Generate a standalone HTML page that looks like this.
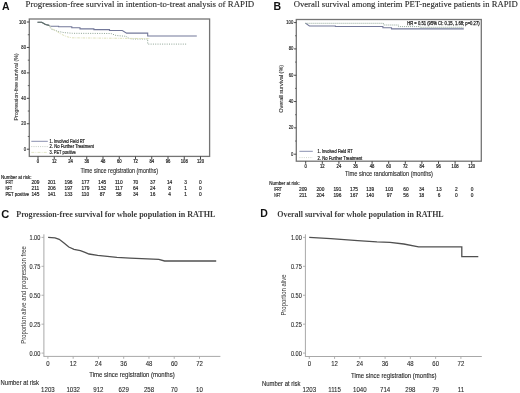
<!DOCTYPE html>
<html><head><meta charset="utf-8"><style>
html,body{margin:0;padding:0;background:#fff;}
body{width:520px;height:393px;overflow:hidden;}
svg{display:block;will-change:transform;}
#w{width:520px;height:393px;}
</style></head><body>
<div id="w"><svg width="520" height="393" viewBox="0 0 520 393">
<rect width="520" height="393" fill="#fff"/>
<text x="1.9" y="10.0" font-size="10" font-family='"Liberation Sans", sans-serif' fill="#111" textLength="7.6" lengthAdjust="spacingAndGlyphs" font-weight="bold" >A</text>
<text x="25.6" y="7.2" font-size="8.5" font-family='"Liberation Serif", serif' fill="#2a2a2a" textLength="228.6" lengthAdjust="spacingAndGlyphs" stroke="#2a2a2a" stroke-width="0.12">Progression-free survival in intention-to-treat analysis of RAPID</text>
<rect x="29.3" y="19.0" width="180.29999999999998" height="137.4" fill="none" stroke="#747474" stroke-width="1.3"/>
<line x1="26.8" y1="149.2" x2="29.3" y2="149.2" stroke="#444" stroke-width="1.0" />
<text x="26.0" y="150.79999999999998" font-size="5.0" font-family='"Liberation Sans", sans-serif' fill="#222" text-anchor="end" textLength="2.34" lengthAdjust="spacingAndGlyphs" stroke="#222" stroke-width="0.15">0</text>
<line x1="26.8" y1="123.76" x2="29.3" y2="123.76" stroke="#444" stroke-width="1.0" />
<text x="26.0" y="125.36" font-size="5.0" font-family='"Liberation Sans", sans-serif' fill="#222" text-anchor="end" textLength="4.67" lengthAdjust="spacingAndGlyphs" stroke="#222" stroke-width="0.15">20</text>
<line x1="26.8" y1="98.32" x2="29.3" y2="98.32" stroke="#444" stroke-width="1.0" />
<text x="26.0" y="99.91999999999999" font-size="5.0" font-family='"Liberation Sans", sans-serif' fill="#222" text-anchor="end" textLength="4.67" lengthAdjust="spacingAndGlyphs" stroke="#222" stroke-width="0.15">40</text>
<line x1="26.8" y1="72.88" x2="29.3" y2="72.88" stroke="#444" stroke-width="1.0" />
<text x="26.0" y="74.47999999999999" font-size="5.0" font-family='"Liberation Sans", sans-serif' fill="#222" text-anchor="end" textLength="4.67" lengthAdjust="spacingAndGlyphs" stroke="#222" stroke-width="0.15">60</text>
<line x1="26.8" y1="47.44" x2="29.3" y2="47.44" stroke="#444" stroke-width="1.0" />
<text x="26.0" y="49.04" font-size="5.0" font-family='"Liberation Sans", sans-serif' fill="#222" text-anchor="end" textLength="4.67" lengthAdjust="spacingAndGlyphs" stroke="#222" stroke-width="0.15">80</text>
<line x1="26.8" y1="22.0" x2="29.3" y2="22.0" stroke="#444" stroke-width="1.0" />
<text x="26.0" y="23.6" font-size="5.0" font-family='"Liberation Sans", sans-serif' fill="#222" text-anchor="end" textLength="7.01" lengthAdjust="spacingAndGlyphs" stroke="#222" stroke-width="0.15">100</text>
<line x1="27.8" y1="136.47999999999996" x2="29.3" y2="136.47999999999996" stroke="#555" stroke-width="0.9" />
<line x1="27.8" y1="111.04" x2="29.3" y2="111.04" stroke="#555" stroke-width="0.9" />
<line x1="27.8" y1="85.6" x2="29.3" y2="85.6" stroke="#555" stroke-width="0.9" />
<line x1="27.8" y1="60.16" x2="29.3" y2="60.16" stroke="#555" stroke-width="0.9" />
<line x1="27.8" y1="34.72" x2="29.3" y2="34.72" stroke="#555" stroke-width="0.9" />
<line x1="38.0" y1="156.4" x2="38.0" y2="159.0" stroke="#444" stroke-width="1.0" />
<text x="38.0" y="162.7" font-size="4.8" font-family='"Liberation Sans", sans-serif' fill="#222" text-anchor="middle" textLength="2.34" lengthAdjust="spacingAndGlyphs" stroke="#222" stroke-width="0.2">0</text>
<line x1="54.25" y1="156.4" x2="54.25" y2="159.0" stroke="#444" stroke-width="1.0" />
<text x="54.25" y="162.7" font-size="4.8" font-family='"Liberation Sans", sans-serif' fill="#222" text-anchor="middle" textLength="4.67" lengthAdjust="spacingAndGlyphs" stroke="#222" stroke-width="0.2">12</text>
<line x1="70.5" y1="156.4" x2="70.5" y2="159.0" stroke="#444" stroke-width="1.0" />
<text x="70.5" y="162.7" font-size="4.8" font-family='"Liberation Sans", sans-serif' fill="#222" text-anchor="middle" textLength="4.67" lengthAdjust="spacingAndGlyphs" stroke="#222" stroke-width="0.2">24</text>
<line x1="86.75" y1="156.4" x2="86.75" y2="159.0" stroke="#444" stroke-width="1.0" />
<text x="86.75" y="162.7" font-size="4.8" font-family='"Liberation Sans", sans-serif' fill="#222" text-anchor="middle" textLength="4.67" lengthAdjust="spacingAndGlyphs" stroke="#222" stroke-width="0.2">36</text>
<line x1="103.0" y1="156.4" x2="103.0" y2="159.0" stroke="#444" stroke-width="1.0" />
<text x="103.0" y="162.7" font-size="4.8" font-family='"Liberation Sans", sans-serif' fill="#222" text-anchor="middle" textLength="4.67" lengthAdjust="spacingAndGlyphs" stroke="#222" stroke-width="0.2">48</text>
<line x1="119.25" y1="156.4" x2="119.25" y2="159.0" stroke="#444" stroke-width="1.0" />
<text x="119.25" y="162.7" font-size="4.8" font-family='"Liberation Sans", sans-serif' fill="#222" text-anchor="middle" textLength="4.67" lengthAdjust="spacingAndGlyphs" stroke="#222" stroke-width="0.2">60</text>
<line x1="135.5" y1="156.4" x2="135.5" y2="159.0" stroke="#444" stroke-width="1.0" />
<text x="135.5" y="162.7" font-size="4.8" font-family='"Liberation Sans", sans-serif' fill="#222" text-anchor="middle" textLength="4.67" lengthAdjust="spacingAndGlyphs" stroke="#222" stroke-width="0.2">72</text>
<line x1="151.75" y1="156.4" x2="151.75" y2="159.0" stroke="#444" stroke-width="1.0" />
<text x="151.75" y="162.7" font-size="4.8" font-family='"Liberation Sans", sans-serif' fill="#222" text-anchor="middle" textLength="4.67" lengthAdjust="spacingAndGlyphs" stroke="#222" stroke-width="0.2">84</text>
<line x1="168.0" y1="156.4" x2="168.0" y2="159.0" stroke="#444" stroke-width="1.0" />
<text x="168.0" y="162.7" font-size="4.8" font-family='"Liberation Sans", sans-serif' fill="#222" text-anchor="middle" textLength="4.67" lengthAdjust="spacingAndGlyphs" stroke="#222" stroke-width="0.2">96</text>
<line x1="184.25" y1="156.4" x2="184.25" y2="159.0" stroke="#444" stroke-width="1.0" />
<text x="184.25" y="162.7" font-size="4.8" font-family='"Liberation Sans", sans-serif' fill="#222" text-anchor="middle" textLength="7.01" lengthAdjust="spacingAndGlyphs" stroke="#222" stroke-width="0.2">108</text>
<line x1="200.5" y1="156.4" x2="200.5" y2="159.0" stroke="#444" stroke-width="1.0" />
<text x="200.5" y="162.7" font-size="4.8" font-family='"Liberation Sans", sans-serif' fill="#222" text-anchor="middle" textLength="7.01" lengthAdjust="spacingAndGlyphs" stroke="#222" stroke-width="0.2">120</text>
<text x="80.5" y="172.8" font-size="6.8" font-family='"Liberation Sans", sans-serif' fill="#2a2a2a" textLength="77.5" lengthAdjust="spacingAndGlyphs" stroke="#2a2a2a" stroke-width="0.12">Time since registration (months)</text>
<text transform="translate(18.2,120.5) rotate(-90)" font-size="4.6" font-family='"Liberation Sans", sans-serif' fill="#333" stroke="#333" stroke-width="0.1" textLength="67" lengthAdjust="spacingAndGlyphs">Progression-free survival (%)</text>
<path d="M37.5,22.2 L41.7,22.2 L45.5,24.5 L49,25.3 L50.2,26.3 L58.6,26.3 L58.6,26.7 L71.8,26.7 L71.8,27.7 L80,27.7 L80,28.9 L93.9,28.9 L93.9,29.6 L109.5,29.6 L109.5,30.5 L122.3,30.5 L126.6,33.1 L147.7,33.1 L147.7,36.0 L196.8,36.0" fill="none" stroke="#737899" stroke-width="1.1" />
<path d="M49,25.5 L51.3,29.2 L58.6,31.5 L64,32.6 L72.5,33.3 L111,33.5 L116,35.5 L126,36.3 L129,38.4 L132,39.0 L147.7,39.0 L147.7,44.1 L186.7,44.1" fill="none" stroke="#8fa596" stroke-width="1" stroke-dasharray="1,1.3"/>
<path d="M49,25.5 L52,28.5 L56,31 L60,33.5 L64,35.5 L68,37 L72,37.8 L128,38.4 L150,38.6" fill="none" stroke="#e0e3bd" stroke-width="1" stroke-dasharray="2.5,1,0.8,1"/>
<path d="M37.5,22.2 L41.7,22.2 L45.5,24.5 L49,25.4" fill="none" stroke="#5f7066" stroke-width="1.1" />
<line x1="31.3" y1="141.3" x2="47.8" y2="141.3" stroke="#8a90b0" stroke-width="1.0" />
<line x1="31.3" y1="146.6" x2="47.8" y2="146.6" stroke="#c4cbc4" stroke-width="1" stroke-dasharray="1,1.2"/>
<line x1="31.3" y1="152.4" x2="47.8" y2="152.4" stroke="#e2e5c8" stroke-width="1" stroke-dasharray="3,1.2,0.8,1.2"/>
<text x="49.5" y="143.1" font-size="4.8" font-family='"Liberation Sans", sans-serif' fill="#222" textLength="35.5" lengthAdjust="spacingAndGlyphs" stroke="#222" stroke-width="0.2">1. Involved Field RT</text>
<text x="49.5" y="148.3" font-size="4.8" font-family='"Liberation Sans", sans-serif' fill="#222" textLength="44.5" lengthAdjust="spacingAndGlyphs" stroke="#222" stroke-width="0.2">2. No Further Treatment</text>
<text x="49.5" y="154.2" font-size="4.8" font-family='"Liberation Sans", sans-serif' fill="#222" textLength="26.3" lengthAdjust="spacingAndGlyphs" stroke="#222" stroke-width="0.2">3. PET positive</text>
<text x="1" y="178.8" font-size="5.0" font-family='"Liberation Sans", sans-serif' fill="#222" textLength="30.5" lengthAdjust="spacingAndGlyphs" stroke="#222" stroke-width="0.16">Number at risk:</text>
<text x="5.4" y="184.0" font-size="4.8" font-family='"Liberation Sans", sans-serif' fill="#222" textLength="7.6" lengthAdjust="spacingAndGlyphs" stroke="#222" stroke-width="0.16">IFRT</text>
<text x="35.4" y="184.0" font-size="4.8" font-family='"Liberation Sans", sans-serif' fill="#222" text-anchor="middle" stroke="#222" stroke-width="0.16">209</text>
<text x="51.7" y="184.0" font-size="4.8" font-family='"Liberation Sans", sans-serif' fill="#222" text-anchor="middle" stroke="#222" stroke-width="0.16">201</text>
<text x="68.5" y="184.0" font-size="4.8" font-family='"Liberation Sans", sans-serif' fill="#222" text-anchor="middle" stroke="#222" stroke-width="0.16">196</text>
<text x="85.4" y="184.0" font-size="4.8" font-family='"Liberation Sans", sans-serif' fill="#222" text-anchor="middle" stroke="#222" stroke-width="0.16">177</text>
<text x="102.3" y="184.0" font-size="4.8" font-family='"Liberation Sans", sans-serif' fill="#222" text-anchor="middle" stroke="#222" stroke-width="0.16">145</text>
<text x="118.8" y="184.0" font-size="4.8" font-family='"Liberation Sans", sans-serif' fill="#222" text-anchor="middle" stroke="#222" stroke-width="0.16">110</text>
<text x="135.6" y="184.0" font-size="4.8" font-family='"Liberation Sans", sans-serif' fill="#222" text-anchor="middle" stroke="#222" stroke-width="0.16">70</text>
<text x="152.7" y="184.0" font-size="4.8" font-family='"Liberation Sans", sans-serif' fill="#222" text-anchor="middle" stroke="#222" stroke-width="0.16">37</text>
<text x="169.6" y="184.0" font-size="4.8" font-family='"Liberation Sans", sans-serif' fill="#222" text-anchor="middle" stroke="#222" stroke-width="0.16">14</text>
<text x="185.6" y="184.0" font-size="4.8" font-family='"Liberation Sans", sans-serif' fill="#222" text-anchor="middle" stroke="#222" stroke-width="0.16">3</text>
<text x="200.4" y="184.0" font-size="4.8" font-family='"Liberation Sans", sans-serif' fill="#222" text-anchor="middle" stroke="#222" stroke-width="0.16">0</text>
<text x="5.4" y="189.89999999999998" font-size="4.8" font-family='"Liberation Sans", sans-serif' fill="#222" textLength="6.6" lengthAdjust="spacingAndGlyphs" stroke="#222" stroke-width="0.16">NFT</text>
<text x="35.4" y="189.89999999999998" font-size="4.8" font-family='"Liberation Sans", sans-serif' fill="#222" text-anchor="middle" stroke="#222" stroke-width="0.16">211</text>
<text x="51.7" y="189.89999999999998" font-size="4.8" font-family='"Liberation Sans", sans-serif' fill="#222" text-anchor="middle" stroke="#222" stroke-width="0.16">206</text>
<text x="68.5" y="189.89999999999998" font-size="4.8" font-family='"Liberation Sans", sans-serif' fill="#222" text-anchor="middle" stroke="#222" stroke-width="0.16">197</text>
<text x="85.4" y="189.89999999999998" font-size="4.8" font-family='"Liberation Sans", sans-serif' fill="#222" text-anchor="middle" stroke="#222" stroke-width="0.16">179</text>
<text x="102.3" y="189.89999999999998" font-size="4.8" font-family='"Liberation Sans", sans-serif' fill="#222" text-anchor="middle" stroke="#222" stroke-width="0.16">152</text>
<text x="118.8" y="189.89999999999998" font-size="4.8" font-family='"Liberation Sans", sans-serif' fill="#222" text-anchor="middle" stroke="#222" stroke-width="0.16">117</text>
<text x="135.6" y="189.89999999999998" font-size="4.8" font-family='"Liberation Sans", sans-serif' fill="#222" text-anchor="middle" stroke="#222" stroke-width="0.16">64</text>
<text x="152.7" y="189.89999999999998" font-size="4.8" font-family='"Liberation Sans", sans-serif' fill="#222" text-anchor="middle" stroke="#222" stroke-width="0.16">24</text>
<text x="169.6" y="189.89999999999998" font-size="4.8" font-family='"Liberation Sans", sans-serif' fill="#222" text-anchor="middle" stroke="#222" stroke-width="0.16">8</text>
<text x="185.6" y="189.89999999999998" font-size="4.8" font-family='"Liberation Sans", sans-serif' fill="#222" text-anchor="middle" stroke="#222" stroke-width="0.16">1</text>
<text x="200.4" y="189.89999999999998" font-size="4.8" font-family='"Liberation Sans", sans-serif' fill="#222" text-anchor="middle" stroke="#222" stroke-width="0.16">0</text>
<text x="5.4" y="195.89999999999998" font-size="4.8" font-family='"Liberation Sans", sans-serif' fill="#222" textLength="23.8" lengthAdjust="spacingAndGlyphs" stroke="#222" stroke-width="0.16">PET positive</text>
<text x="35.4" y="195.89999999999998" font-size="4.8" font-family='"Liberation Sans", sans-serif' fill="#222" text-anchor="middle" stroke="#222" stroke-width="0.16">145</text>
<text x="51.7" y="195.89999999999998" font-size="4.8" font-family='"Liberation Sans", sans-serif' fill="#222" text-anchor="middle" stroke="#222" stroke-width="0.16">141</text>
<text x="68.5" y="195.89999999999998" font-size="4.8" font-family='"Liberation Sans", sans-serif' fill="#222" text-anchor="middle" stroke="#222" stroke-width="0.16">133</text>
<text x="85.4" y="195.89999999999998" font-size="4.8" font-family='"Liberation Sans", sans-serif' fill="#222" text-anchor="middle" stroke="#222" stroke-width="0.16">110</text>
<text x="102.3" y="195.89999999999998" font-size="4.8" font-family='"Liberation Sans", sans-serif' fill="#222" text-anchor="middle" stroke="#222" stroke-width="0.16">87</text>
<text x="118.8" y="195.89999999999998" font-size="4.8" font-family='"Liberation Sans", sans-serif' fill="#222" text-anchor="middle" stroke="#222" stroke-width="0.16">58</text>
<text x="135.6" y="195.89999999999998" font-size="4.8" font-family='"Liberation Sans", sans-serif' fill="#222" text-anchor="middle" stroke="#222" stroke-width="0.16">34</text>
<text x="152.7" y="195.89999999999998" font-size="4.8" font-family='"Liberation Sans", sans-serif' fill="#222" text-anchor="middle" stroke="#222" stroke-width="0.16">16</text>
<text x="169.6" y="195.89999999999998" font-size="4.8" font-family='"Liberation Sans", sans-serif' fill="#222" text-anchor="middle" stroke="#222" stroke-width="0.16">4</text>
<text x="185.6" y="195.89999999999998" font-size="4.8" font-family='"Liberation Sans", sans-serif' fill="#222" text-anchor="middle" stroke="#222" stroke-width="0.16">1</text>
<text x="200.4" y="195.89999999999998" font-size="4.8" font-family='"Liberation Sans", sans-serif' fill="#222" text-anchor="middle" stroke="#222" stroke-width="0.16">0</text>
<text x="273.6" y="9.7" font-size="10.4" font-family='"Liberation Sans", sans-serif' fill="#111" textLength="7.6" lengthAdjust="spacingAndGlyphs" font-weight="bold" >B</text>
<text x="293.7" y="7.2" font-size="8.5" font-family='"Liberation Serif", serif' fill="#2a2a2a" textLength="224" lengthAdjust="spacingAndGlyphs" stroke="#2a2a2a" stroke-width="0.12">Overall survival among interim PET-negative patients in RAPID</text>
<rect x="296.3" y="19.5" width="185.0" height="141.7" fill="none" stroke="#747474" stroke-width="1.3"/>
<line x1="294.1" y1="154.2" x2="296.3" y2="154.2" stroke="#444" stroke-width="1.0" />
<text x="293.3" y="155.6" font-size="5.0" font-family='"Liberation Sans", sans-serif' fill="#222" text-anchor="end" textLength="2.34" lengthAdjust="spacingAndGlyphs" stroke="#222" stroke-width="0.15">0</text>
<line x1="294.1" y1="127.88" x2="296.3" y2="127.88" stroke="#444" stroke-width="1.0" />
<text x="293.3" y="129.28" font-size="5.0" font-family='"Liberation Sans", sans-serif' fill="#222" text-anchor="end" textLength="4.67" lengthAdjust="spacingAndGlyphs" stroke="#222" stroke-width="0.15">20</text>
<line x1="294.1" y1="101.56" x2="296.3" y2="101.56" stroke="#444" stroke-width="1.0" />
<text x="293.3" y="102.96000000000001" font-size="5.0" font-family='"Liberation Sans", sans-serif' fill="#222" text-anchor="end" textLength="4.67" lengthAdjust="spacingAndGlyphs" stroke="#222" stroke-width="0.15">40</text>
<line x1="294.1" y1="75.24000000000001" x2="296.3" y2="75.24000000000001" stroke="#444" stroke-width="1.0" />
<text x="293.3" y="76.64000000000001" font-size="5.0" font-family='"Liberation Sans", sans-serif' fill="#222" text-anchor="end" textLength="4.67" lengthAdjust="spacingAndGlyphs" stroke="#222" stroke-width="0.15">60</text>
<line x1="294.1" y1="48.92" x2="296.3" y2="48.92" stroke="#444" stroke-width="1.0" />
<text x="293.3" y="50.32" font-size="5.0" font-family='"Liberation Sans", sans-serif' fill="#222" text-anchor="end" textLength="4.67" lengthAdjust="spacingAndGlyphs" stroke="#222" stroke-width="0.15">80</text>
<line x1="294.1" y1="22.6" x2="296.3" y2="22.6" stroke="#444" stroke-width="1.0" />
<text x="293.3" y="24.0" font-size="5.0" font-family='"Liberation Sans", sans-serif' fill="#222" text-anchor="end" textLength="7.01" lengthAdjust="spacingAndGlyphs" stroke="#222" stroke-width="0.15">100</text>
<line x1="295.1" y1="141.04" x2="296.3" y2="141.04" stroke="#555" stroke-width="0.9" />
<line x1="295.1" y1="114.72" x2="296.3" y2="114.72" stroke="#555" stroke-width="0.9" />
<line x1="295.1" y1="88.4" x2="296.3" y2="88.4" stroke="#555" stroke-width="0.9" />
<line x1="295.1" y1="62.08" x2="296.3" y2="62.08" stroke="#555" stroke-width="0.9" />
<line x1="295.1" y1="35.760000000000005" x2="296.3" y2="35.760000000000005" stroke="#555" stroke-width="0.9" />
<line x1="305.7" y1="161.2" x2="305.7" y2="163.79999999999998" stroke="#444" stroke-width="1.0" />
<text x="305.7" y="168.4" font-size="4.8" font-family='"Liberation Sans", sans-serif' fill="#222" text-anchor="middle" textLength="2.34" lengthAdjust="spacingAndGlyphs" stroke="#222" stroke-width="0.2">0</text>
<line x1="322.3" y1="161.2" x2="322.3" y2="163.79999999999998" stroke="#444" stroke-width="1.0" />
<text x="322.3" y="168.4" font-size="4.8" font-family='"Liberation Sans", sans-serif' fill="#222" text-anchor="middle" textLength="4.67" lengthAdjust="spacingAndGlyphs" stroke="#222" stroke-width="0.2">12</text>
<line x1="338.9" y1="161.2" x2="338.9" y2="163.79999999999998" stroke="#444" stroke-width="1.0" />
<text x="338.9" y="168.4" font-size="4.8" font-family='"Liberation Sans", sans-serif' fill="#222" text-anchor="middle" textLength="4.67" lengthAdjust="spacingAndGlyphs" stroke="#222" stroke-width="0.2">24</text>
<line x1="355.5" y1="161.2" x2="355.5" y2="163.79999999999998" stroke="#444" stroke-width="1.0" />
<text x="355.5" y="168.4" font-size="4.8" font-family='"Liberation Sans", sans-serif' fill="#222" text-anchor="middle" textLength="4.67" lengthAdjust="spacingAndGlyphs" stroke="#222" stroke-width="0.2">36</text>
<line x1="372.1" y1="161.2" x2="372.1" y2="163.79999999999998" stroke="#444" stroke-width="1.0" />
<text x="372.1" y="168.4" font-size="4.8" font-family='"Liberation Sans", sans-serif' fill="#222" text-anchor="middle" textLength="4.67" lengthAdjust="spacingAndGlyphs" stroke="#222" stroke-width="0.2">48</text>
<line x1="388.7" y1="161.2" x2="388.7" y2="163.79999999999998" stroke="#444" stroke-width="1.0" />
<text x="388.7" y="168.4" font-size="4.8" font-family='"Liberation Sans", sans-serif' fill="#222" text-anchor="middle" textLength="4.67" lengthAdjust="spacingAndGlyphs" stroke="#222" stroke-width="0.2">60</text>
<line x1="405.3" y1="161.2" x2="405.3" y2="163.79999999999998" stroke="#444" stroke-width="1.0" />
<text x="405.3" y="168.4" font-size="4.8" font-family='"Liberation Sans", sans-serif' fill="#222" text-anchor="middle" textLength="4.67" lengthAdjust="spacingAndGlyphs" stroke="#222" stroke-width="0.2">72</text>
<line x1="421.9" y1="161.2" x2="421.9" y2="163.79999999999998" stroke="#444" stroke-width="1.0" />
<text x="421.9" y="168.4" font-size="4.8" font-family='"Liberation Sans", sans-serif' fill="#222" text-anchor="middle" textLength="4.67" lengthAdjust="spacingAndGlyphs" stroke="#222" stroke-width="0.2">84</text>
<line x1="438.5" y1="161.2" x2="438.5" y2="163.79999999999998" stroke="#444" stroke-width="1.0" />
<text x="438.5" y="168.4" font-size="4.8" font-family='"Liberation Sans", sans-serif' fill="#222" text-anchor="middle" textLength="4.67" lengthAdjust="spacingAndGlyphs" stroke="#222" stroke-width="0.2">96</text>
<line x1="455.1" y1="161.2" x2="455.1" y2="163.79999999999998" stroke="#444" stroke-width="1.0" />
<text x="455.1" y="168.4" font-size="4.8" font-family='"Liberation Sans", sans-serif' fill="#222" text-anchor="middle" textLength="7.01" lengthAdjust="spacingAndGlyphs" stroke="#222" stroke-width="0.2">108</text>
<line x1="471.70000000000005" y1="161.2" x2="471.70000000000005" y2="163.79999999999998" stroke="#444" stroke-width="1.0" />
<text x="471.70000000000005" y="168.4" font-size="4.8" font-family='"Liberation Sans", sans-serif' fill="#222" text-anchor="middle" textLength="7.01" lengthAdjust="spacingAndGlyphs" stroke="#222" stroke-width="0.2">120</text>
<text x="345" y="176.4" font-size="6.8" font-family='"Liberation Sans", sans-serif' fill="#2a2a2a" textLength="88" lengthAdjust="spacingAndGlyphs" stroke="#2a2a2a" stroke-width="0.12">Time since randomisation (months)</text>
<text transform="translate(282.6,112.8) rotate(-90)" font-size="4.6" font-family='"Liberation Sans", sans-serif' fill="#333" stroke="#333" stroke-width="0.1" textLength="48" lengthAdjust="spacingAndGlyphs">Overall survival (%)</text>
<text x="479.6" y="24.6" font-size="4.9" font-family='"Liberation Sans", sans-serif' fill="#222" text-anchor="end" textLength="72.4" lengthAdjust="spacingAndGlyphs" stroke="#222" stroke-width="0.25">HR = 0.51 (95% CI: 0.15, 1.68; p=0.27)</text>
<path d="M305.4,23.1 L309.4,26.0 L335.4,26.0 L335.4,26.5 L382.9,26.5 L382.9,27.7 L391.5,27.7 L391.5,28.9 L463.8,28.9" fill="none" stroke="#737899" stroke-width="1.1" />
<path d="M305.4,23.3 L383.5,23.3 L383.5,25.0 L398.5,25.0 L398.5,26.6 L420,26.6 L420,27.3 L463.8,27.3" fill="none" stroke="#8fa596" stroke-width="1" stroke-dasharray="1,1"/>
<line x1="299.4" y1="151.3" x2="312.8" y2="151.3" stroke="#8a90b0" stroke-width="1.0" />
<line x1="299.4" y1="157.6" x2="312.8" y2="157.6" stroke="#cfd4cc" stroke-width="1" stroke-dasharray="1,1.2"/>
<text x="317.6" y="152.9" font-size="4.8" font-family='"Liberation Sans", sans-serif' fill="#222" textLength="35" lengthAdjust="spacingAndGlyphs" stroke="#222" stroke-width="0.2">1. Involved Field RT</text>
<text x="317.6" y="159.6" font-size="4.8" font-family='"Liberation Sans", sans-serif' fill="#222" textLength="44.6" lengthAdjust="spacingAndGlyphs" stroke="#222" stroke-width="0.2">2. No Further Treatment</text>
<text x="269.3" y="184.6" font-size="5.0" font-family='"Liberation Sans", sans-serif' fill="#222" textLength="30.5" lengthAdjust="spacingAndGlyphs" stroke="#222" stroke-width="0.16">Number at risk:</text>
<text x="274.3" y="190.7" font-size="4.8" font-family='"Liberation Sans", sans-serif' fill="#222" textLength="7.6" lengthAdjust="spacingAndGlyphs" stroke="#222" stroke-width="0.16">IFRT</text>
<text x="303" y="190.7" font-size="4.8" font-family='"Liberation Sans", sans-serif' fill="#222" text-anchor="middle" stroke="#222" stroke-width="0.16">209</text>
<text x="320.4" y="190.7" font-size="4.8" font-family='"Liberation Sans", sans-serif' fill="#222" text-anchor="middle" stroke="#222" stroke-width="0.16">200</text>
<text x="337.4" y="190.7" font-size="4.8" font-family='"Liberation Sans", sans-serif' fill="#222" text-anchor="middle" stroke="#222" stroke-width="0.16">191</text>
<text x="354" y="190.7" font-size="4.8" font-family='"Liberation Sans", sans-serif' fill="#222" text-anchor="middle" stroke="#222" stroke-width="0.16">175</text>
<text x="370.2" y="190.7" font-size="4.8" font-family='"Liberation Sans", sans-serif' fill="#222" text-anchor="middle" stroke="#222" stroke-width="0.16">139</text>
<text x="389.3" y="190.7" font-size="4.8" font-family='"Liberation Sans", sans-serif' fill="#222" text-anchor="middle" stroke="#222" stroke-width="0.16">103</text>
<text x="406" y="190.7" font-size="4.8" font-family='"Liberation Sans", sans-serif' fill="#222" text-anchor="middle" stroke="#222" stroke-width="0.16">60</text>
<text x="421.6" y="190.7" font-size="4.8" font-family='"Liberation Sans", sans-serif' fill="#222" text-anchor="middle" stroke="#222" stroke-width="0.16">34</text>
<text x="439" y="190.7" font-size="4.8" font-family='"Liberation Sans", sans-serif' fill="#222" text-anchor="middle" stroke="#222" stroke-width="0.16">13</text>
<text x="456.3" y="190.7" font-size="4.8" font-family='"Liberation Sans", sans-serif' fill="#222" text-anchor="middle" stroke="#222" stroke-width="0.16">2</text>
<text x="472" y="190.7" font-size="4.8" font-family='"Liberation Sans", sans-serif' fill="#222" text-anchor="middle" stroke="#222" stroke-width="0.16">0</text>
<text x="274.3" y="196.6" font-size="4.8" font-family='"Liberation Sans", sans-serif' fill="#222" textLength="6.6" lengthAdjust="spacingAndGlyphs" stroke="#222" stroke-width="0.16">NFT</text>
<text x="303" y="196.6" font-size="4.8" font-family='"Liberation Sans", sans-serif' fill="#222" text-anchor="middle" stroke="#222" stroke-width="0.16">211</text>
<text x="320.4" y="196.6" font-size="4.8" font-family='"Liberation Sans", sans-serif' fill="#222" text-anchor="middle" stroke="#222" stroke-width="0.16">204</text>
<text x="337.4" y="196.6" font-size="4.8" font-family='"Liberation Sans", sans-serif' fill="#222" text-anchor="middle" stroke="#222" stroke-width="0.16">196</text>
<text x="354" y="196.6" font-size="4.8" font-family='"Liberation Sans", sans-serif' fill="#222" text-anchor="middle" stroke="#222" stroke-width="0.16">167</text>
<text x="370.2" y="196.6" font-size="4.8" font-family='"Liberation Sans", sans-serif' fill="#222" text-anchor="middle" stroke="#222" stroke-width="0.16">140</text>
<text x="389.3" y="196.6" font-size="4.8" font-family='"Liberation Sans", sans-serif' fill="#222" text-anchor="middle" stroke="#222" stroke-width="0.16">97</text>
<text x="406" y="196.6" font-size="4.8" font-family='"Liberation Sans", sans-serif' fill="#222" text-anchor="middle" stroke="#222" stroke-width="0.16">56</text>
<text x="421.6" y="196.6" font-size="4.8" font-family='"Liberation Sans", sans-serif' fill="#222" text-anchor="middle" stroke="#222" stroke-width="0.16">18</text>
<text x="439" y="196.6" font-size="4.8" font-family='"Liberation Sans", sans-serif' fill="#222" text-anchor="middle" stroke="#222" stroke-width="0.16">6</text>
<text x="456.3" y="196.6" font-size="4.8" font-family='"Liberation Sans", sans-serif' fill="#222" text-anchor="middle" stroke="#222" stroke-width="0.16">0</text>
<text x="472" y="196.6" font-size="4.8" font-family='"Liberation Sans", sans-serif' fill="#222" text-anchor="middle" stroke="#222" stroke-width="0.16">0</text>
<text x="1.3" y="217.6" font-size="10.4" font-family='"Liberation Sans", sans-serif' fill="#111" textLength="8.0" lengthAdjust="spacingAndGlyphs" font-weight="bold" >C</text>
<text x="16.2" y="216.7" font-size="9.0" font-family='"Liberation Serif", serif' fill="#3a3a3a" textLength="199.2" lengthAdjust="spacingAndGlyphs" font-weight="bold" >Progression-free survival for whole population in RATHL</text>
<line x1="43.9" y1="234.3" x2="43.9" y2="356.9" stroke="#a8a8a8" stroke-width="1.0" />
<line x1="43.9" y1="356.4" x2="220.4" y2="356.4" stroke="#a8a8a8" stroke-width="1.0" />
<line x1="41.5" y1="353.1" x2="43.9" y2="353.1" stroke="#a8a8a8" stroke-width="0.9" />
<text x="40.3" y="355.70000000000005" font-size="6.7" font-family='"Liberation Sans", sans-serif' fill="#2a2a2a" text-anchor="end" textLength="10.9" lengthAdjust="spacingAndGlyphs" stroke="#2a2a2a" stroke-width="0.1">0.00</text>
<line x1="41.5" y1="324.175" x2="43.9" y2="324.175" stroke="#a8a8a8" stroke-width="0.9" />
<text x="40.3" y="326.77500000000003" font-size="6.7" font-family='"Liberation Sans", sans-serif' fill="#2a2a2a" text-anchor="end" textLength="10.9" lengthAdjust="spacingAndGlyphs" stroke="#2a2a2a" stroke-width="0.1">0.25</text>
<line x1="41.5" y1="295.25" x2="43.9" y2="295.25" stroke="#a8a8a8" stroke-width="0.9" />
<text x="40.3" y="297.85" font-size="6.7" font-family='"Liberation Sans", sans-serif' fill="#2a2a2a" text-anchor="end" textLength="10.9" lengthAdjust="spacingAndGlyphs" stroke="#2a2a2a" stroke-width="0.1">0.50</text>
<line x1="41.5" y1="266.325" x2="43.9" y2="266.325" stroke="#a8a8a8" stroke-width="0.9" />
<text x="40.3" y="268.925" font-size="6.7" font-family='"Liberation Sans", sans-serif' fill="#2a2a2a" text-anchor="end" textLength="10.9" lengthAdjust="spacingAndGlyphs" stroke="#2a2a2a" stroke-width="0.1">0.75</text>
<line x1="41.5" y1="237.4" x2="43.9" y2="237.4" stroke="#a8a8a8" stroke-width="0.9" />
<text x="40.3" y="240.0" font-size="6.7" font-family='"Liberation Sans", sans-serif' fill="#2a2a2a" text-anchor="end" textLength="10.9" lengthAdjust="spacingAndGlyphs" stroke="#2a2a2a" stroke-width="0.1">1.00</text>
<line x1="47.9" y1="356.4" x2="47.9" y2="358.79999999999995" stroke="#a8a8a8" stroke-width="0.9" />
<text x="47.9" y="366.1" font-size="6.7" font-family='"Liberation Sans", sans-serif' fill="#2a2a2a" text-anchor="middle" textLength="3.34" lengthAdjust="spacingAndGlyphs" stroke="#2a2a2a" stroke-width="0.1">0</text>
<line x1="73.16666666666666" y1="356.4" x2="73.16666666666666" y2="358.79999999999995" stroke="#a8a8a8" stroke-width="0.9" />
<text x="73.16666666666666" y="366.1" font-size="6.7" font-family='"Liberation Sans", sans-serif' fill="#2a2a2a" text-anchor="middle" textLength="6.67" lengthAdjust="spacingAndGlyphs" stroke="#2a2a2a" stroke-width="0.1">12</text>
<line x1="98.43333333333334" y1="356.4" x2="98.43333333333334" y2="358.79999999999995" stroke="#a8a8a8" stroke-width="0.9" />
<text x="98.43333333333334" y="366.1" font-size="6.7" font-family='"Liberation Sans", sans-serif' fill="#2a2a2a" text-anchor="middle" textLength="6.67" lengthAdjust="spacingAndGlyphs" stroke="#2a2a2a" stroke-width="0.1">24</text>
<line x1="123.69999999999999" y1="356.4" x2="123.69999999999999" y2="358.79999999999995" stroke="#a8a8a8" stroke-width="0.9" />
<text x="123.69999999999999" y="366.1" font-size="6.7" font-family='"Liberation Sans", sans-serif' fill="#2a2a2a" text-anchor="middle" textLength="6.67" lengthAdjust="spacingAndGlyphs" stroke="#2a2a2a" stroke-width="0.1">36</text>
<line x1="148.96666666666667" y1="356.4" x2="148.96666666666667" y2="358.79999999999995" stroke="#a8a8a8" stroke-width="0.9" />
<text x="148.96666666666667" y="366.1" font-size="6.7" font-family='"Liberation Sans", sans-serif' fill="#2a2a2a" text-anchor="middle" textLength="6.67" lengthAdjust="spacingAndGlyphs" stroke="#2a2a2a" stroke-width="0.1">48</text>
<line x1="174.23333333333332" y1="356.4" x2="174.23333333333332" y2="358.79999999999995" stroke="#a8a8a8" stroke-width="0.9" />
<text x="174.23333333333332" y="366.1" font-size="6.7" font-family='"Liberation Sans", sans-serif' fill="#2a2a2a" text-anchor="middle" textLength="6.67" lengthAdjust="spacingAndGlyphs" stroke="#2a2a2a" stroke-width="0.1">60</text>
<line x1="199.5" y1="356.4" x2="199.5" y2="358.79999999999995" stroke="#a8a8a8" stroke-width="0.9" />
<text x="199.5" y="366.1" font-size="6.7" font-family='"Liberation Sans", sans-serif' fill="#2a2a2a" text-anchor="middle" textLength="6.67" lengthAdjust="spacingAndGlyphs" stroke="#2a2a2a" stroke-width="0.1">72</text>
<text x="132.0" y="377.4" font-size="6.3" font-family='"Liberation Sans", sans-serif' fill="#2a2a2a" text-anchor="middle" textLength="85.4" lengthAdjust="spacingAndGlyphs" stroke="#2a2a2a" stroke-width="0.12">Time since registration (months)</text>
<text transform="translate(25.6,295.0) rotate(-90)" font-size="6.4" text-anchor="middle" font-family='"Liberation Sans", sans-serif' fill="#333" textLength="97.5" lengthAdjust="spacingAndGlyphs">Proportion alive and progression free</text>
<text x="0.6" y="385.3" font-size="6.3" font-family='"Liberation Sans", sans-serif' fill="#2a2a2a" textLength="38.4" lengthAdjust="spacingAndGlyphs" stroke="#2a2a2a" stroke-width="0.12">Number at risk</text>
<text x="47.9" y="391.8" font-size="6.7" font-family='"Liberation Sans", sans-serif' fill="#2a2a2a" text-anchor="middle" textLength="13.57" lengthAdjust="spacingAndGlyphs" stroke="#2a2a2a" stroke-width="0.1">1203</text>
<text x="73.16666666666666" y="391.8" font-size="6.7" font-family='"Liberation Sans", sans-serif' fill="#2a2a2a" text-anchor="middle" textLength="13.57" lengthAdjust="spacingAndGlyphs" stroke="#2a2a2a" stroke-width="0.1">1032</text>
<text x="98.43333333333334" y="391.8" font-size="6.7" font-family='"Liberation Sans", sans-serif' fill="#2a2a2a" text-anchor="middle" textLength="10.18" lengthAdjust="spacingAndGlyphs" stroke="#2a2a2a" stroke-width="0.1">912</text>
<text x="123.69999999999999" y="391.8" font-size="6.7" font-family='"Liberation Sans", sans-serif' fill="#2a2a2a" text-anchor="middle" textLength="10.18" lengthAdjust="spacingAndGlyphs" stroke="#2a2a2a" stroke-width="0.1">629</text>
<text x="148.96666666666667" y="391.8" font-size="6.7" font-family='"Liberation Sans", sans-serif' fill="#2a2a2a" text-anchor="middle" textLength="10.18" lengthAdjust="spacingAndGlyphs" stroke="#2a2a2a" stroke-width="0.1">258</text>
<text x="174.23333333333332" y="391.8" font-size="6.7" font-family='"Liberation Sans", sans-serif' fill="#2a2a2a" text-anchor="middle" textLength="6.78" lengthAdjust="spacingAndGlyphs" stroke="#2a2a2a" stroke-width="0.1">70</text>
<text x="199.5" y="391.8" font-size="6.7" font-family='"Liberation Sans", sans-serif' fill="#2a2a2a" text-anchor="middle" textLength="6.78" lengthAdjust="spacingAndGlyphs" stroke="#2a2a2a" stroke-width="0.1">10</text>
<path d="M48.1,237.3 L55,237.9 L59.2,239.3 L64,243 L68.8,247.0 L74,249.3 L80.4,250.6 L85,252.3 L89,254 L97.7,255.3 L116.9,257.3 L130,258.1 L158.8,259.4 L164.6,261 L216.2,261" fill="none" stroke="#505050" stroke-width="1.3" />
<text x="260.2" y="217.2" font-size="10.4" font-family='"Liberation Sans", sans-serif' fill="#111" textLength="7.6" lengthAdjust="spacingAndGlyphs" font-weight="bold" >D</text>
<text x="277.3" y="216.8" font-size="9.0" font-family='"Liberation Serif", serif' fill="#3a3a3a" textLength="166.4" lengthAdjust="spacingAndGlyphs" font-weight="bold" >Overall survival for whole population in RATHL</text>
<line x1="305.4" y1="234.3" x2="305.4" y2="357.0" stroke="#a8a8a8" stroke-width="1.0" />
<line x1="305.4" y1="356.5" x2="481.8" y2="356.5" stroke="#a8a8a8" stroke-width="1.0" />
<line x1="303.0" y1="353.1" x2="305.4" y2="353.1" stroke="#a8a8a8" stroke-width="0.9" />
<text x="301.79999999999995" y="355.70000000000005" font-size="6.7" font-family='"Liberation Sans", sans-serif' fill="#2a2a2a" text-anchor="end" textLength="10.9" lengthAdjust="spacingAndGlyphs" stroke="#2a2a2a" stroke-width="0.1">0.00</text>
<line x1="303.0" y1="324.175" x2="305.4" y2="324.175" stroke="#a8a8a8" stroke-width="0.9" />
<text x="301.79999999999995" y="326.77500000000003" font-size="6.7" font-family='"Liberation Sans", sans-serif' fill="#2a2a2a" text-anchor="end" textLength="10.9" lengthAdjust="spacingAndGlyphs" stroke="#2a2a2a" stroke-width="0.1">0.25</text>
<line x1="303.0" y1="295.25" x2="305.4" y2="295.25" stroke="#a8a8a8" stroke-width="0.9" />
<text x="301.79999999999995" y="297.85" font-size="6.7" font-family='"Liberation Sans", sans-serif' fill="#2a2a2a" text-anchor="end" textLength="10.9" lengthAdjust="spacingAndGlyphs" stroke="#2a2a2a" stroke-width="0.1">0.50</text>
<line x1="303.0" y1="266.325" x2="305.4" y2="266.325" stroke="#a8a8a8" stroke-width="0.9" />
<text x="301.79999999999995" y="268.925" font-size="6.7" font-family='"Liberation Sans", sans-serif' fill="#2a2a2a" text-anchor="end" textLength="10.9" lengthAdjust="spacingAndGlyphs" stroke="#2a2a2a" stroke-width="0.1">0.75</text>
<line x1="303.0" y1="237.4" x2="305.4" y2="237.4" stroke="#a8a8a8" stroke-width="0.9" />
<text x="301.79999999999995" y="240.0" font-size="6.7" font-family='"Liberation Sans", sans-serif' fill="#2a2a2a" text-anchor="end" textLength="10.9" lengthAdjust="spacingAndGlyphs" stroke="#2a2a2a" stroke-width="0.1">1.00</text>
<line x1="309.3" y1="356.5" x2="309.3" y2="358.9" stroke="#a8a8a8" stroke-width="0.9" />
<text x="309.3" y="366.1" font-size="6.7" font-family='"Liberation Sans", sans-serif' fill="#2a2a2a" text-anchor="middle" textLength="3.34" lengthAdjust="spacingAndGlyphs" stroke="#2a2a2a" stroke-width="0.1">0</text>
<line x1="334.56666666666666" y1="356.5" x2="334.56666666666666" y2="358.9" stroke="#a8a8a8" stroke-width="0.9" />
<text x="334.56666666666666" y="366.1" font-size="6.7" font-family='"Liberation Sans", sans-serif' fill="#2a2a2a" text-anchor="middle" textLength="6.67" lengthAdjust="spacingAndGlyphs" stroke="#2a2a2a" stroke-width="0.1">12</text>
<line x1="359.83333333333337" y1="356.5" x2="359.83333333333337" y2="358.9" stroke="#a8a8a8" stroke-width="0.9" />
<text x="359.83333333333337" y="366.1" font-size="6.7" font-family='"Liberation Sans", sans-serif' fill="#2a2a2a" text-anchor="middle" textLength="6.67" lengthAdjust="spacingAndGlyphs" stroke="#2a2a2a" stroke-width="0.1">24</text>
<line x1="385.1" y1="356.5" x2="385.1" y2="358.9" stroke="#a8a8a8" stroke-width="0.9" />
<text x="385.1" y="366.1" font-size="6.7" font-family='"Liberation Sans", sans-serif' fill="#2a2a2a" text-anchor="middle" textLength="6.67" lengthAdjust="spacingAndGlyphs" stroke="#2a2a2a" stroke-width="0.1">36</text>
<line x1="410.3666666666667" y1="356.5" x2="410.3666666666667" y2="358.9" stroke="#a8a8a8" stroke-width="0.9" />
<text x="410.3666666666667" y="366.1" font-size="6.7" font-family='"Liberation Sans", sans-serif' fill="#2a2a2a" text-anchor="middle" textLength="6.67" lengthAdjust="spacingAndGlyphs" stroke="#2a2a2a" stroke-width="0.1">48</text>
<line x1="435.6333333333333" y1="356.5" x2="435.6333333333333" y2="358.9" stroke="#a8a8a8" stroke-width="0.9" />
<text x="435.6333333333333" y="366.1" font-size="6.7" font-family='"Liberation Sans", sans-serif' fill="#2a2a2a" text-anchor="middle" textLength="6.67" lengthAdjust="spacingAndGlyphs" stroke="#2a2a2a" stroke-width="0.1">60</text>
<line x1="460.9" y1="356.5" x2="460.9" y2="358.9" stroke="#a8a8a8" stroke-width="0.9" />
<text x="460.9" y="366.1" font-size="6.7" font-family='"Liberation Sans", sans-serif' fill="#2a2a2a" text-anchor="middle" textLength="6.67" lengthAdjust="spacingAndGlyphs" stroke="#2a2a2a" stroke-width="0.1">72</text>
<text x="393.8" y="377.8" font-size="6.3" font-family='"Liberation Sans", sans-serif' fill="#2a2a2a" text-anchor="middle" textLength="85.4" lengthAdjust="spacingAndGlyphs" stroke="#2a2a2a" stroke-width="0.12">Time since registration (months)</text>
<text transform="translate(285.8,295.0) rotate(-90)" font-size="6.4" text-anchor="middle" font-family='"Liberation Sans", sans-serif' fill="#333" textLength="41.2" lengthAdjust="spacingAndGlyphs">Proportion alive</text>
<text x="262" y="385.9" font-size="6.3" font-family='"Liberation Sans", sans-serif' fill="#2a2a2a" textLength="38.4" lengthAdjust="spacingAndGlyphs" stroke="#2a2a2a" stroke-width="0.12">Number at risk</text>
<text x="309.3" y="392.4" font-size="6.7" font-family='"Liberation Sans", sans-serif' fill="#2a2a2a" text-anchor="middle" textLength="13.57" lengthAdjust="spacingAndGlyphs" stroke="#2a2a2a" stroke-width="0.1">1203</text>
<text x="334.56666666666666" y="392.4" font-size="6.7" font-family='"Liberation Sans", sans-serif' fill="#2a2a2a" text-anchor="middle" textLength="12.66" lengthAdjust="spacingAndGlyphs" stroke="#2a2a2a" stroke-width="0.1">1115</text>
<text x="359.83333333333337" y="392.4" font-size="6.7" font-family='"Liberation Sans", sans-serif' fill="#2a2a2a" text-anchor="middle" textLength="13.57" lengthAdjust="spacingAndGlyphs" stroke="#2a2a2a" stroke-width="0.1">1040</text>
<text x="385.1" y="392.4" font-size="6.7" font-family='"Liberation Sans", sans-serif' fill="#2a2a2a" text-anchor="middle" textLength="10.18" lengthAdjust="spacingAndGlyphs" stroke="#2a2a2a" stroke-width="0.1">714</text>
<text x="410.3666666666667" y="392.4" font-size="6.7" font-family='"Liberation Sans", sans-serif' fill="#2a2a2a" text-anchor="middle" textLength="10.18" lengthAdjust="spacingAndGlyphs" stroke="#2a2a2a" stroke-width="0.1">298</text>
<text x="435.6333333333333" y="392.4" font-size="6.7" font-family='"Liberation Sans", sans-serif' fill="#2a2a2a" text-anchor="middle" textLength="6.78" lengthAdjust="spacingAndGlyphs" stroke="#2a2a2a" stroke-width="0.1">79</text>
<text x="460.9" y="392.4" font-size="6.7" font-family='"Liberation Sans", sans-serif' fill="#2a2a2a" text-anchor="middle" textLength="6.33" lengthAdjust="spacingAndGlyphs" stroke="#2a2a2a" stroke-width="0.1">11</text>
<path d="M309.2,237.3 L330.8,238.7 L357.7,240.6 L376.9,241.9 L390,242.4 L403.8,244 L418.6,246.8 L461.8,246.8 L461.8,256.6 L478.3,256.6" fill="none" stroke="#505050" stroke-width="1.3" />
</svg></div>
</body></html>
